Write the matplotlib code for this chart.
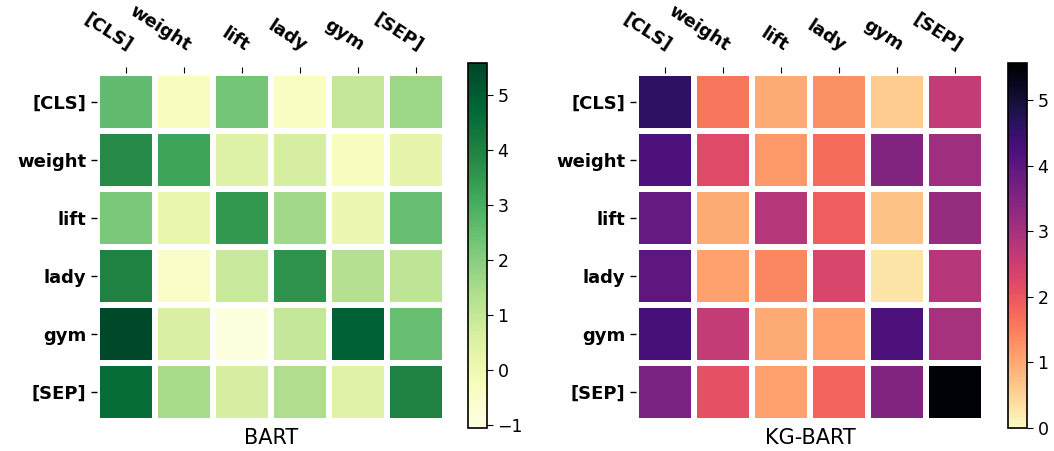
import numpy as np
import matplotlib
matplotlib.use("Agg")
import matplotlib.pyplot as plt

tokens = ["[CLS]", "weight", "lift", "lady", "gym", "[SEP]"]

bart_vals = [
    [2.6, -0.3, 2.3, -0.4, 1.0, 1.7],
    [3.8, 3.2, 0.5, 0.7, -0.3, 0.3],
    [2.2, 0.2, 3.5, 1.6, 0.1, 2.5],
    [4.0, -0.5, 0.9, 3.6, 1.3, 1.1],
    [5.5, 0.6, -0.9, 1.0, 4.9, 2.5],
    [4.6, 1.5, 0.7, 1.4, 0.4, 4.0],
]

kgbart_vals = [
    [4.6, 1.6, 1.0, 1.3, 0.6, 2.6],
    [4.2, 2.2, 1.2, 1.7, 3.5, 3.1],
    [3.9, 1.0, 2.8, 1.9, 0.7, 3.2],
    [4.0, 1.1, 1.4, 2.3, 0.3, 2.8],
    [4.3, 2.6, 1.0, 1.1, 4.2, 3.0],
    [3.6, 2.1, 1.1, 1.8, 3.5, 5.5],
]

W, H = 1054, 451
fig = plt.figure(figsize=(W / 100, H / 100), dpi=100)


def draw(ax_rect, cb_rect, data, cmap, vmin, vmax, title):
    ax = fig.add_axes(ax_rect)
    cax = fig.add_axes(cb_rect)
    arr = np.array(data)
    mesh = ax.pcolormesh(arr, cmap=cmap, vmin=vmin, vmax=vmax,
                         edgecolors="white", linewidth=3)
    ax.set_xlim(0, arr.shape[1])
    ax.set_ylim(arr.shape[0], 0)
    for s in ax.spines.values():
        s.set_visible(False)
    ax.xaxis.tick_top()
    ax.set_xticks(np.arange(len(tokens)) + 0.5)
    ax.set_yticks(np.arange(len(tokens)) + 0.5)
    ax.set_xticklabels(tokens, rotation=-33, ha="right", va="bottom",
                       rotation_mode="anchor", fontweight="bold", fontsize=13)
    ax.set_yticklabels(tokens, fontweight="bold", fontsize=13)
    ax.tick_params(axis="y", length=4, width=1)
    ax.tick_params(axis="x", length=4, width=0.8, pad=9)
    ax.set_xlabel(title, fontsize=15, labelpad=5)
    cb = fig.colorbar(mesh, cax=cax)
    cb.outline.set_edgecolor("black")
    cb.outline.set_linewidth(1.2)
    cb.ax.tick_params(labelsize=12.5, length=4)
    return ax


draw([97 / W, 30 / H, 348 / W, 348 / H], [468 / W, 23 / H, 19 / W, 365 / H],
     bart_vals, "YlGn", -1.05, 5.58, "BART")
draw([636 / W, 30 / H, 348 / W, 348 / H], [1008 / W, 23 / H, 19 / W, 365 / H],
     kgbart_vals, "magma_r", 0, 5.57, "KG-BART")

fig.savefig("out.png", dpi=100)
